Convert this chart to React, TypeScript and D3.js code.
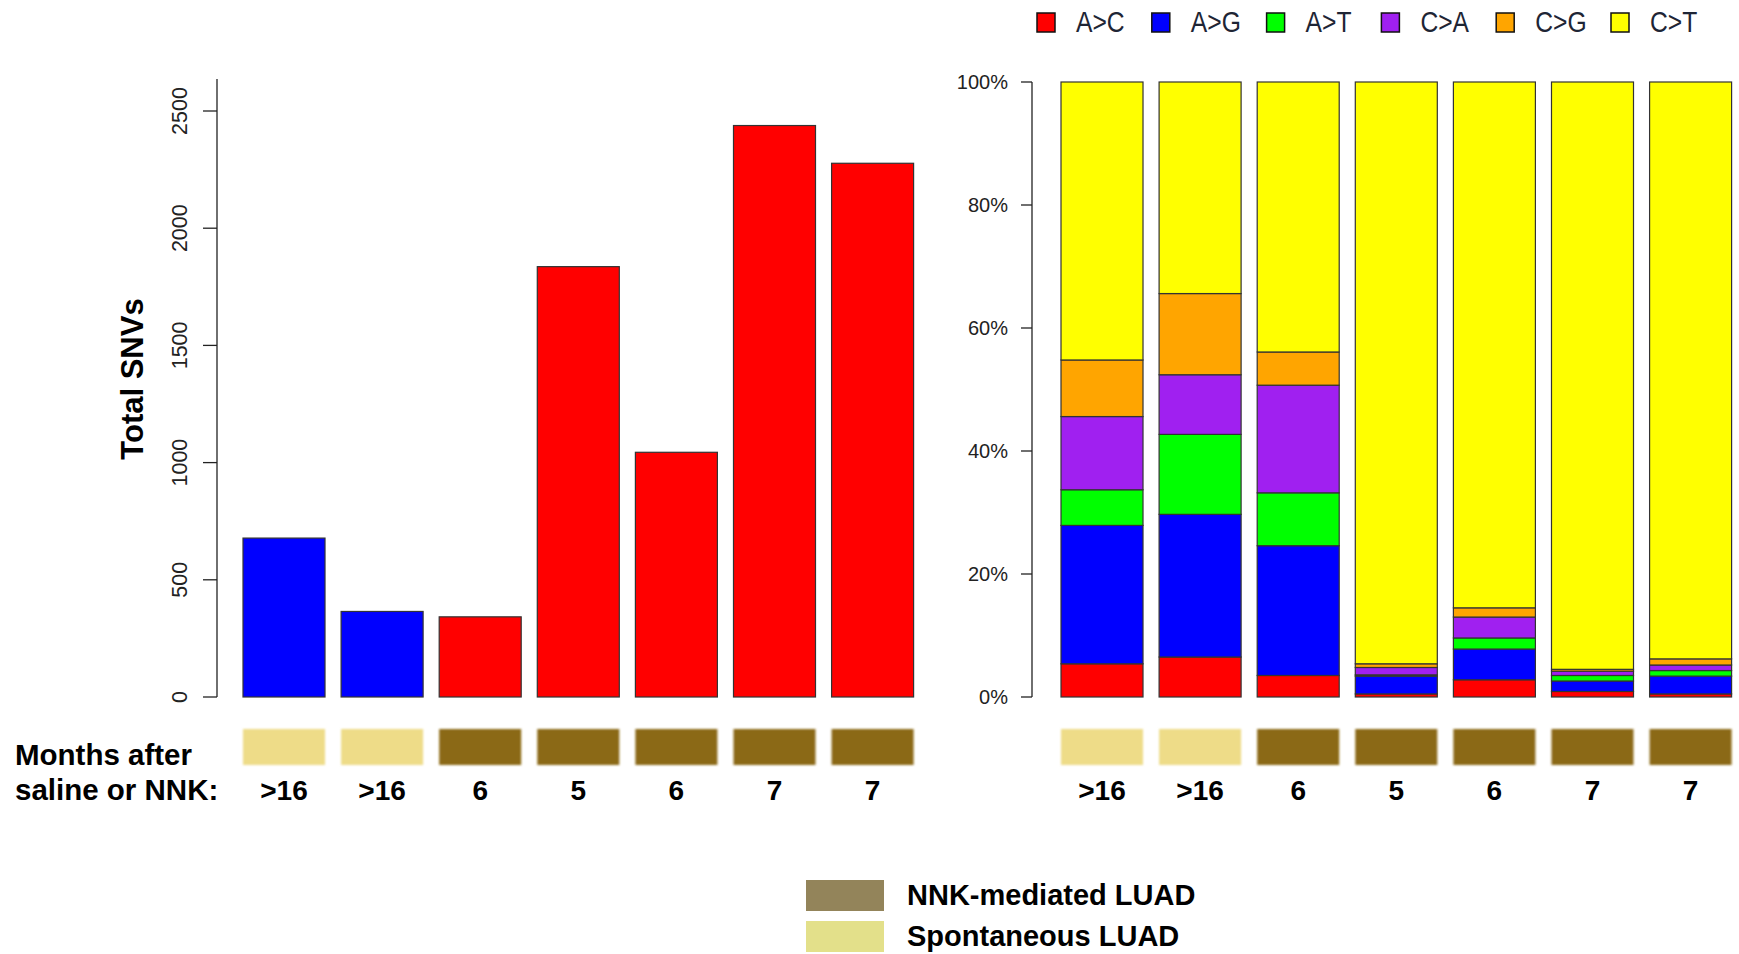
import * as d3 from "d3";
import React from "react";

// sample order, months after saline or NNK
const months = [">16", ">16", "6", "5", "6", "7", "7"];
const groups = ["Spontaneous", "Spontaneous", "NNK", "NNK", "NNK", "NNK", "NNK"];
const totalSNVs = [678, 365, 342, 1836, 1044, 2438, 2277];

const mutTypes = ["A>C", "A>G", "A>T", "C>A", "C>G", "C>T"];
const mutColors = ["#ff0000", "#0000ff", "#00ff00", "#a020f0", "#ffa500", "#ffff00"];
const pctAC = [5.4, 6.5, 3.5, 0.5, 2.8, 0.9, 0.5];
const pctAG = [22.5, 23.2, 21.1, 2.9, 5.0, 1.7, 2.9];
const pctAT = [5.8, 13.0, 8.6, 0.2, 1.8, 0.9, 0.9];
const pctCA = [11.9, 9.7, 17.5, 1.2, 3.4, 0.7, 0.9];
const pctCG = [9.2, 13.2, 5.4, 0.6, 1.5, 0.3, 1.0];
const pctCT = [45.2, 34.4, 43.9, 94.6, 85.5, 95.5, 93.8];

const leftTicks = [0, 500, 1000, 1500, 2000, 2500];
const rightTicks = [0, 0.2, 0.4, 0.6, 0.8, 1];

const groupBox: Record<string, string> = { Spontaneous: "#eedc88", NNK: "#8b6914" };
const legendGroups = ["NNK-mediated LUAD", "Spontaneous LUAD"];
const legendGroupColors = ["#93845a", "#e3e08a"];

const font = "'Liberation Sans', Arial, sans-serif";

export default function App() {
  const idx = months.map((_, i) => String(i));
  const pctRows = idx.map((k, i) => ({
    key: k,
    "A>C": pctAC[i], "A>G": pctAG[i], "A>T": pctAT[i],
    "C>A": pctCA[i], "C>G": pctCG[i], "C>T": pctCT[i],
  }));
  const stacked = d3.stack<any>().keys(mutTypes).offset(d3.stackOffsetExpand)(pctRows);

  const xL = d3.scaleBand().domain(idx).range([243, 913.6]).paddingInner(0.164).paddingOuter(0);
  const xR = d3.scaleBand().domain(idx).range([1061, 1731.6]).paddingInner(0.164).paddingOuter(0);
  const yL = d3.scaleLinear().domain([0, 2500]).range([697, 111]);
  const yR = d3.scaleLinear().domain([0, 1]).range([697, 82]);
  const pct = d3.format(".0%");

  const monthRow = (x: d3.ScaleBand<string>) =>
    idx.map((k, i) => (
      <g key={"m" + k}>
        <rect x={x(k)} y={729} width={x.bandwidth()} height={36}
          fill={groupBox[groups[i]]} filter="url(#soft)" />
        <text x={x(k)! + x.bandwidth() / 2} y={800} textAnchor="middle"
          fontWeight="bold" fontSize={28}>{months[i]}</text>
      </g>
    ));

  return (
    <svg width={1739} height={954} style={{ position: "absolute", left: 0, top: 0, background: "#fff" }}
      fontFamily={font}>
      <defs>
        <filter id="soft" x="-5%" y="-10%" width="110%" height="120%">
          <feGaussianBlur stdDeviation="0.9" />
        </filter>
      </defs>

      {/* left: total SNVs */}
      <line x1={217} x2={217} y1={79} y2={697} stroke="#222" strokeWidth={1.3} />
      {leftTicks.map(t => (
        <g key={"lt" + t}>
          <line x1={203} x2={217} y1={yL(t)} y2={yL(t)} stroke="#222" strokeWidth={1.3} />
          <text transform={`translate(187,${yL(t)}) rotate(-90)`} textAnchor="middle"
            fontSize={21.5} fill="#222">{t}</text>
        </g>
      ))}
      <text transform="translate(143,379) rotate(-90)" textAnchor="middle"
        fontWeight="bold" fontSize={31}>Total SNVs</text>
      {idx.map((k, i) => (
        <rect key={"b" + k} x={xL(k)} width={xL.bandwidth()} y={yL(totalSNVs[i])}
          height={yL(0) - yL(totalSNVs[i])}
          fill={groups[i] === "NNK" ? "#ff0000" : "#0000ff"} stroke="#333" strokeWidth={1.2} />
      ))}

      {/* right: mutation spectrum */}
      <line x1={1032} x2={1032} y1={82} y2={697} stroke="#222" strokeWidth={1.3} />
      {rightTicks.map(t => (
        <g key={"rt" + t}>
          <line x1={1021} x2={1032} y1={yR(t)} y2={yR(t)} stroke="#222" strokeWidth={1.3} />
          <text x={1008} y={yR(t)} dy="0.35em" textAnchor="end" fontSize={20} fill="#222">{pct(t)}</text>
        </g>
      ))}
      {stacked.map((s, si) => s.map((d, i) => (
        <rect key={s.key + i} x={xR(idx[i])} width={xR.bandwidth()} y={yR(d[1])}
          height={yR(d[0]) - yR(d[1])} fill={mutColors[si]} stroke="#333" strokeWidth={1.2} />
      )))}

      {/* top legend */}
      {mutTypes.map((m, i) => {
        const x0 = 1037 + i * 114.8;
        return (
          <g key={"lg" + m}>
            <rect x={x0} y={13} width={18} height={19} fill={mutColors[i]} stroke="#111" strokeWidth={1.5} />
            <text transform={`translate(${x0 + 39},32) scale(0.85,1)`} fontSize={29} fill="#1e2535">{m}</text>
          </g>
        );
      })}

      {/* month boxes */}
      {monthRow(xL)}
      {monthRow(xR)}
      <text x={15} y={765} fontWeight="bold" fontSize={29.5}>Months after</text>
      <text x={15} y={800} fontWeight="bold" fontSize={29.5}>saline or NNK:</text>

      {/* bottom legend */}
      {legendGroups.map((g, i) => (
        <g key={"bg" + g}>
          <rect x={806} y={880 + i * 41} width={78} height={31} fill={legendGroupColors[i]} />
          <text x={907} y={905 + i * 41} fontWeight="bold" fontSize={29}>{g}</text>
        </g>
      ))}
    </svg>
  );
}
